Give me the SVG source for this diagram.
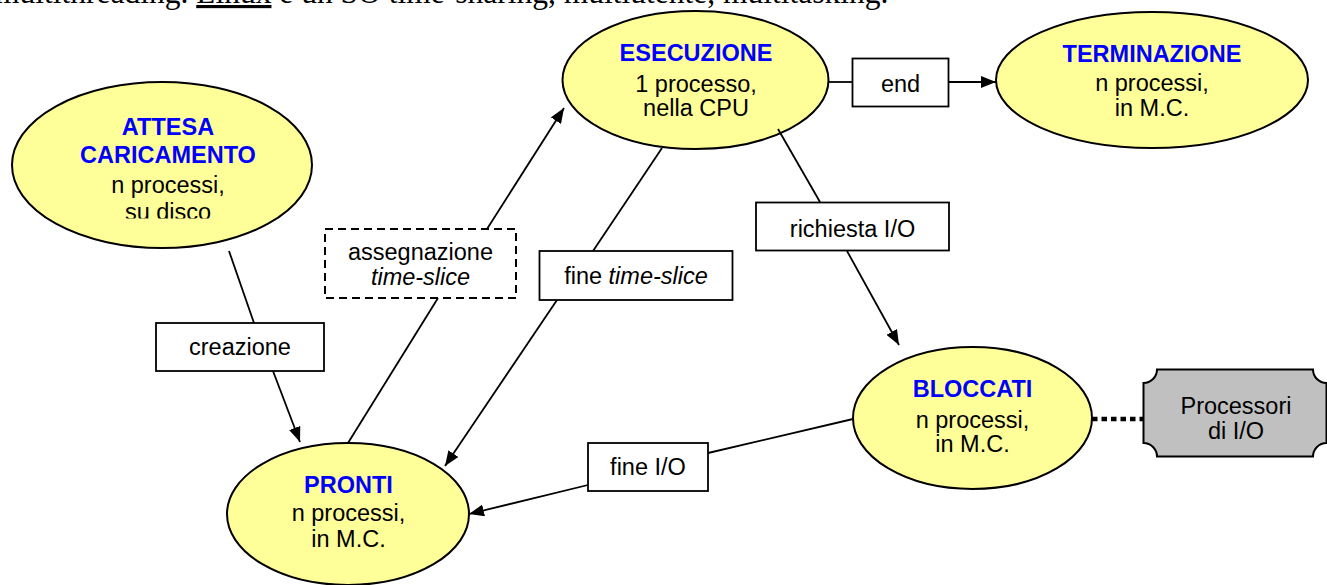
<svg xmlns="http://www.w3.org/2000/svg" width="1327" height="585" viewBox="0 0 1327 585">
<style>
.st{fill:#ffff99;stroke:#000;stroke-width:2}
.lb{fill:#fff;stroke:#000;stroke-width:1.8}
.t{font-family:"Liberation Sans",Arial,sans-serif;font-size:23.5px;fill:#000;text-anchor:middle}
.h{font-weight:bold;fill:#0000ff}
.i{font-style:italic}
.c{fill:none;stroke:#000;stroke-width:1.8}
</style>
<defs>
<marker id="ah" markerUnits="userSpaceOnUse" markerWidth="15" markerHeight="12" refX="15" refY="6" orient="auto">
<path d="M0,0 L15,6 L0,12 z" fill="#000"/>
</marker>
<clipPath id="clipA"><rect x="0" y="0" width="400" height="218.5"/></clipPath>
</defs>
<rect width="1327" height="585" fill="#fff"/>
<text x="-5" y="3" font-family="'Liberation Serif','Times New Roman',serif" font-size="31.5" fill="#000">multithreading. <tspan text-decoration="underline">Linux</tspan> è un SO time-sharing, multiutente, multitasking.</text>

<g id="attesa">
<ellipse class="st" cx="162" cy="165" rx="150" ry="83"/>
<text class="t" clip-path="url(#clipA)"><tspan class="h" x="168" y="135">ATTESA</tspan><tspan class="h" x="168" y="163">CARICAMENTO</tspan><tspan x="168" y="192.5">n processi,</tspan><tspan x="168" y="220">su disco</tspan></text>
</g>
<g id="esecuzione">
<ellipse class="st" cx="695.5" cy="80" rx="133" ry="69"/>
<text class="t"><tspan class="h" x="696" y="61">ESECUZIONE</tspan><tspan x="696" y="91.5">1 processo,</tspan><tspan x="696" y="116">nella CPU</tspan></text>
</g>
<g id="terminazione">
<ellipse class="st" cx="1152" cy="80" rx="156" ry="68"/>
<text class="t"><tspan class="h" x="1152" y="61.5">TERMINAZIONE</tspan><tspan x="1152" y="91">n processi,</tspan><tspan x="1152" y="116">in M.C.</tspan></text>
</g>
<g id="bloccati">
<ellipse class="st" cx="972.5" cy="418" rx="119.5" ry="71"/>
<text class="t"><tspan class="h" x="972.5" y="397">BLOCCATI</tspan><tspan x="972.5" y="428">n processi,</tspan><tspan x="972.5" y="452">in M.C.</tspan></text>
</g>
<g id="pronti">
<ellipse class="st" cx="348" cy="514" rx="121" ry="71"/>
<text class="t"><tspan class="h" x="348.5" y="493">PRONTI</tspan><tspan x="348.5" y="521">n processi,</tspan><tspan x="348.5" y="547">in M.C.</tspan></text>
</g>
<g id="processori">
<path d="M1157,369.5 H1313 A13.5,13.5 0 0 0 1326.5,383 V443 A13.5,13.5 0 0 0 1313,456.5 H1157 A13.5,13.5 0 0 0 1143.5,443 V383 A13.5,13.5 0 0 0 1157,369.5 Z" fill="#c0c0c0" stroke="#000" stroke-width="2"/>
<text class="t"><tspan x="1236" y="414">Processori</tspan><tspan x="1236" y="438.5">di I/O</tspan></text>
</g>

<g id="connectors">
<line class="c" x1="229" y1="251" x2="254" y2="323"/>
<line class="c" x1="273" y1="371" x2="300" y2="442" marker-end="url(#ah)"/>
<line class="c" x1="348" y1="443" x2="438" y2="298"/>
<line class="c" x1="487" y1="229" x2="564" y2="108" marker-end="url(#ah)"/>
<line class="c" x1="662" y1="148" x2="593" y2="251"/>
<line class="c" x1="557" y1="300" x2="445" y2="466" marker-end="url(#ah)"/>
<line class="c" x1="828" y1="82" x2="852" y2="82"/>
<line class="c" x1="948" y1="82" x2="996" y2="82" marker-end="url(#ah)"/>
<line class="c" x1="778" y1="129" x2="820" y2="202"/>
<line class="c" x1="847" y1="251" x2="899" y2="345" marker-end="url(#ah)"/>
<line class="c" x1="853" y1="419" x2="708" y2="453"/>
<line class="c" x1="588" y1="485" x2="469" y2="514" marker-end="url(#ah)"/>
<line x1="1092" y1="419" x2="1143" y2="419" stroke="#000" stroke-width="4.5" stroke-dasharray="5.5,4"/>
</g>

<g id="lbl-end">
<rect class="lb" x="852.5" y="58.5" width="96" height="48"/>
<text class="t" x="900.5" y="92">end</text>
</g>
<g id="lbl-richiesta">
<rect class="lb" x="756" y="202.5" width="193" height="48"/>
<text class="t" x="852.5" y="236.5">richiesta I/O</text>
</g>
<g id="lbl-creazione">
<rect class="lb" x="156" y="323" width="168" height="48"/>
<text class="t" x="240" y="355">creazione</text>
</g>
<g id="lbl-assegnazione">
<rect x="325" y="229" width="191" height="69" fill="#fff" stroke="#000" stroke-width="2" stroke-dasharray="8,5"/>
<text class="t"><tspan x="420.5" y="260">assegnazione</tspan><tspan class="i" x="420.5" y="285">time-slice</tspan></text>
</g>
<g id="lbl-finets">
<rect class="lb" x="539.5" y="251" width="193" height="49"/>
<text class="t" x="636" y="283.5">fine <tspan class="i">time-slice</tspan></text>
</g>
<g id="lbl-fineio">
<rect class="lb" x="588" y="443" width="120" height="48"/>
<text class="t" x="648" y="475">fine I/O</text>
</g>
</svg>
